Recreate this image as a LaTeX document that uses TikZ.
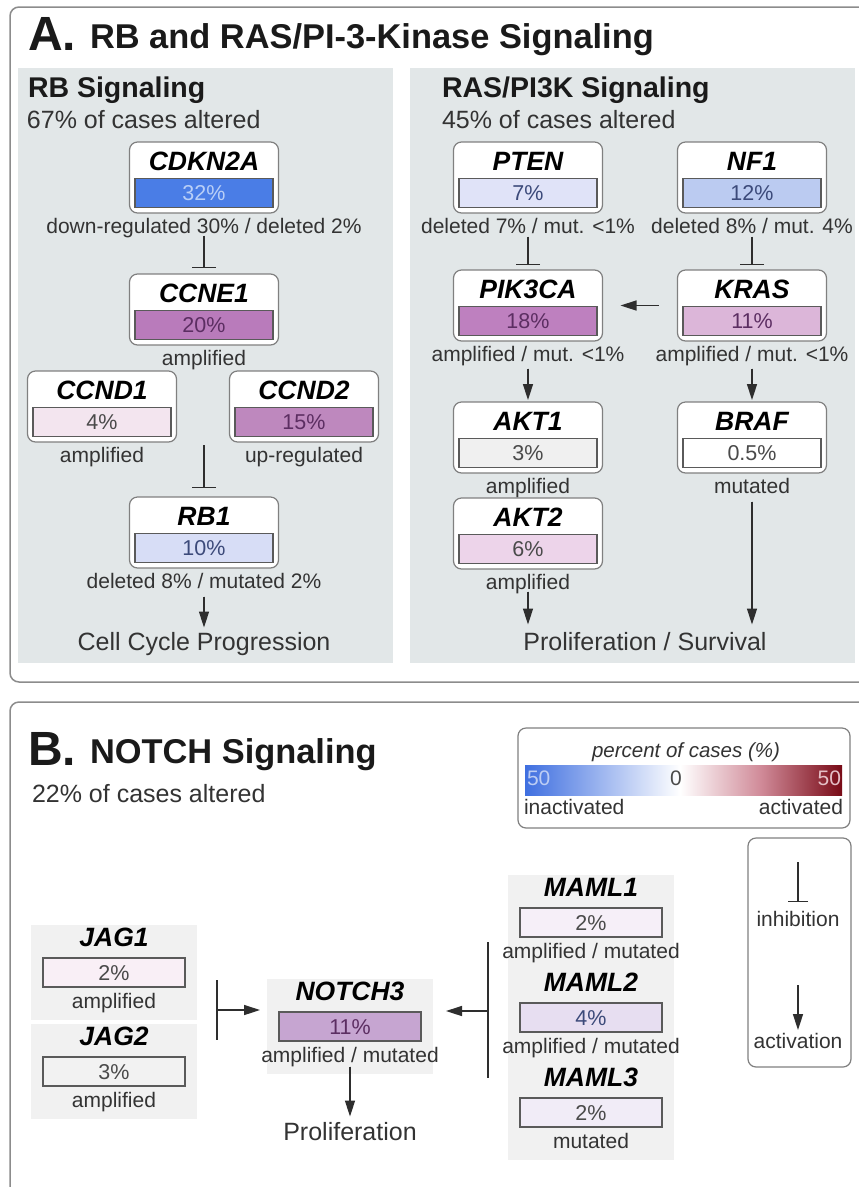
\documentclass[tikz,border=0pt]{standalone}
\usepackage{fontspec}
\setmainfont{Liberation Sans}
\usetikzlibrary{arrows.meta,calc}
\definecolor{panelgray}{HTML}{E2E7E8}
\definecolor{framegray}{HTML}{8C8C8C}
\definecolor{boxgray}{HTML}{808080}
\definecolor{bargray}{HTML}{5A5A5A}
\definecolor{linegray}{HTML}{2E2E2E}
\definecolor{labgray}{HTML}{333333}
\definecolor{pctgray}{HTML}{4A4A4A}
\definecolor{nbggray}{HTML}{F1F1F1}
\definecolor{cCDKNtwoA}{HTML}{4A7DE6}
\definecolor{tCDKNtwoA}{HTML}{B9CFF7}
\definecolor{cCCNEone}{HTML}{B97BBB}
\definecolor{tPurple}{HTML}{5C2E62}
\definecolor{cCCNDone}{HTML}{F3E5EF}
\definecolor{cCCNDtwo}{HTML}{BE88BE}
\definecolor{cRBone}{HTML}{D7DDF6}
\definecolor{tBlue}{HTML}{3C4A7A}
\definecolor{cPTEN}{HTML}{E0E3F8}
\definecolor{cNFone}{HTML}{BBCBF1}
\definecolor{cPIKCA}{HTML}{BE80BF}
\definecolor{cKRAS}{HTML}{DCB6D9}
\definecolor{cAKTone}{HTML}{F0F0F0}
\definecolor{cAKTtwo}{HTML}{EDD4EA}
\definecolor{cJAGone}{HTML}{F9EFF6}
\definecolor{cJAGtwo}{HTML}{F2F2F2}
\definecolor{cNOTCH}{HTML}{C6A5D1}
\definecolor{cMAMLone}{HTML}{F6EFF8}
\definecolor{cMAMLtwo}{HTML}{E7DEF1}
\definecolor{cMAMLthree}{HTML}{F1ECF7}
\definecolor{legblue}{HTML}{3F6FE0}
\definecolor{legmid}{HTML}{D08A98}
\definecolor{legred}{HTML}{780A16}
\definecolor{titlecol}{HTML}{1A1A1A}
\tikzset{
  every node/.style={inner sep=0pt, outer sep=0pt},
  frame/.style={draw=framegray, line width=1.5pt, rounded corners=9pt},
  genebox/.style={draw=boxgray, line width=1.2pt, fill=white, rounded corners=8pt,
    minimum width=149pt, minimum height=71pt},
  pbar/.style={draw=bargray, line width=1.1pt, minimum width=138pt, minimum height=29pt,
    font=\fontsize{21.5}{21.5}\selectfont, text=pctgray, text height=15pt, text depth=0pt},
  nbar/.style={pbar, minimum width=142pt},
  nbg/.style={fill=nbggray, minimum width=166pt, minimum height=95pt},
  gname/.style={font=\fontsize{26.5}{26.5}\bfseries\itshape\selectfont, text=black,
    text height=19pt, text depth=0pt},
  lab/.style={font=\fontsize{21}{22}\selectfont, text=labgray, text height=15pt, text depth=4.3pt},
  outtxt/.style={font=\fontsize{25}{26}\selectfont, text=labgray, text height=18pt, text depth=5pt},
  act/.style={-{Triangle[length=16pt,width=10pt]}, line width=1.5pt, draw=linegray, fill=linegray},
  inh/.style={-{Bar[width=24pt,line width=1.5pt]}, line width=1.5pt, draw=linegray},
  plain/.style={line width=1.5pt, draw=linegray},
  ptitle/.style={font=\fontsize{34.4}{34.4}\bfseries\selectfont, text=titlecol, anchor=base west},
  pletter/.style={font=\fontsize{48}{48}\bfseries\selectfont, text=titlecol, anchor=base west},
  stitle/.style={font=\fontsize{28.5}{28.5}\bfseries\selectfont, text=titlecol, anchor=base west},
  sub/.style={font=\fontsize{25}{26}\selectfont, text=labgray, anchor=base west},
  legbox/.style={draw=boxgray, line width=1.2pt, rounded corners=8pt},
}
\newcommand\gbox[7]{%
  \node[genebox] (#1) at (#2,#3+35.5) {};
  \node[gname] (#1-n) at (#2,#3+19) {#4};
  \node[pbar,#6] (#1-b) at (#2,#3+51) {#5};
  \node[lab] (#1-l) at (#2,#3+86) {#7};
}
\newcommand\nbox[7]{%
  \node[nbg] (#1) at (#2,#3+14.5) {};
  \node[gname] (#1-n) at (#2,#3-21) {#4};
  \node[nbar,#6] (#1-b) at (#2,#3+14.5) {#5};
  \node[lab] (#1-l) at (#2,#3+45) {#7};
}
\begin{document}
\begin{tikzpicture}[x=1pt,y=-1pt]
\useasboundingbox (0,0) rectangle (859,1187);
\clip (0,0) rectangle (859,1187);
\fill[white] (0,0) rectangle (859,1187);

% ---------- Panel A ----------
\draw[frame] (10,7) rectangle (885,682);
\fill[panelgray] (18,68) rectangle (393,663);
\fill[panelgray] (410,68) rectangle (855,663);
\node[pletter] (tA) at (28,50) {A.};
\node[ptitle] (tAt) at (90,48) {RB and RAS/PI-3-Kinase Signaling};
\node[stitle] (rbt) at (28,97) {RB Signaling};
\node[sub] (rbs) at (27,128) {67\% of cases altered};
\node[stitle] (rast) at (442,97) {RAS/PI3K Signaling};
\node[sub] (rass) at (442,128) {45\% of cases altered};

\gbox{cdkn2a}{204}{142}{CDKN2A}{32\%}{fill=cCDKNtwoA,text=tCDKNtwoA}{down-regulated 30\% / deleted 2\%}
\gbox{ccne1}{204}{274}{CCNE1}{20\%}{fill=cCCNEone,text=tPurple}{amplified}
\gbox{ccnd1}{102}{371}{CCND1}{4\%}{fill=cCCNDone}{amplified}
\gbox{ccnd2}{304}{371}{CCND2}{15\%}{fill=cCCNDtwo,text=tPurple}{up-regulated}
\gbox{rb1}{204}{497}{RB1}{10\%}{fill=cRBone,text=tBlue}{deleted 8\% / mutated 2\%}
\node[outtxt] (ccp) at (204,644) {Cell Cycle Progression};

\gbox{pten}{528}{142}{PTEN}{7\%}{fill=cPTEN,text=tBlue}{deleted 7\% / mut. <1\%}
\gbox{nf1}{752}{142}{NF1}{12\%}{fill=cNFone,text=tBlue}{deleted 8\% / mut. 4\%}
\gbox{pik3ca}{528}{270}{PIK3CA}{18\%}{fill=cPIKCA,text=tPurple}{amplified / mut. <1\%}
\gbox{kras}{752}{270}{KRAS}{11\%}{fill=cKRAS,text=tPurple}{amplified / mut. <1\%}
\gbox{akt1}{528}{402}{AKT1}{3\%}{fill=cAKTone}{amplified}
\gbox{braf}{752}{402}{BRAF}{0.5\%}{fill=white}{mutated}
\gbox{akt2}{528}{498}{AKT2}{6\%}{fill=cAKTtwo}{amplified}
\node[outtxt] (ps) at (645,644) {Proliferation / Survival};

% connectors A
\draw[inh, shorten <=-2pt, shorten >=6pt] (cdkn2a-l.south) -- (ccne1.north);
\coordinate (ccj) at (204,445);
\draw[inh, shorten >=9pt] (ccj) -- (rb1.north);
\draw[act, shorten <=4pt, shorten >=5pt] (rb1-l.south) -- (ccp.north);
\draw[inh, shorten <=-1pt, shorten >=5pt] (pten-l.south) -- (pik3ca.north);
\draw[inh, shorten <=-1pt, shorten >=5pt] (nf1-l.south) -- (kras.north);
\draw[act, shorten <=19pt, shorten >=18pt] (kras.west) -- (pik3ca.east);
\draw[act, shorten <=3pt, shorten >=2pt] (pik3ca-l.south) -- (akt1.north);
\draw[act, shorten <=3pt, shorten >=2pt] (kras-l.south) -- (braf.north);
\draw[act, shorten <=-2pt, shorten >=8pt] (akt2-l.south) -- (akt2-l.south |- ps.north);
\draw[act, shorten <=4pt, shorten >=8pt] (braf-l.south) -- (braf-l.south |- ps.north);

% ---------- Panel B ----------
\draw[frame] (10,702) rectangle (885,1215);
\node[pletter] (tB) at (28,765) {B.};
\node[ptitle] (tBt) at (90,763) {NOTCH Signaling};
\node[sub] (ns) at (32,802) {22\% of cases altered};

\nbox{jag1}{114}{958}{JAG1}{2\%}{fill=cJAGone}{amplified}
\nbox{jag2}{114}{1057}{JAG2}{3\%}{fill=cJAGtwo}{amplified}
\nbox{notch3}{350}{1012}{NOTCH3}{11\%}{fill=cNOTCH,text=tPurple}{amplified / mutated}
\nbox{maml1}{591}{908}{MAML1}{2\%}{fill=cMAMLone}{amplified / mutated}
\nbox{maml2}{591}{1003}{MAML2}{4\%}{fill=cMAMLtwo,text=tBlue}{amplified / mutated}
\nbox{maml3}{591}{1098}{MAML3}{2\%}{fill=cMAMLthree}{mutated}
\node[outtxt] (prol) at (350,1134) {Proliferation};

\coordinate (jt) at (217,980);
\coordinate (jb) at (217,1040);
\coordinate (jm) at (217,1010);
\draw[plain] (jt) -- (jb);
\draw[act, shorten >=7pt] (jm) -- (jm -| notch3.west);
\coordinate (mt) at (488,942);
\coordinate (mb) at (488,1078);
\coordinate (mm) at (488,1011);
\draw[plain] (mt) -- (mb);
\draw[act, shorten >=13pt] (mm) -- (mm -| notch3.east);
\draw[act, shorten <=0pt, shorten >=6pt] (notch3-l.south) -- (prol.north);

% legend
\draw[legbox] (518,728) rectangle (850,828);
\node[lab, font=\fontsize{20.5}{22}\itshape\selectfont] (legt) at (686,752) {percent of cases (\%)};
\shade[left color=legblue, right color=white] (525,765) rectangle (680,795);
\shade[left color=white, right color=legred, middle color=legmid] (680,765) rectangle (842,795);
\node[lab, text=legblue!35!white, anchor=west] (l50a) at (527,780) {50};
\node[lab, text=pctgray] (l0) at (676,780) {0};
\node[lab, text=legmid!55!white, anchor=east] (l50b) at (841,780) {50};
\node[lab, anchor=west] (linact) at (524,809) {inactivated};
\node[lab, anchor=east] (lact) at (843,809) {activated};

\draw[legbox] (748,838) rectangle (851,1067);
\coordinate (lia) at (798,862);
\coordinate (lib) at (798,902);
\draw[inh, -{Bar[width=20pt,line width=1.5pt]}] (lia) -- (lib);
\node[lab] (linh) at (798,921) {inhibition};
\coordinate (laa) at (798,985);
\coordinate (lab) at (798,1030);
\draw[act] (laa) -- (lab);
\node[lab] (lactv) at (798,1043) {activation};
\end{tikzpicture}
\end{document}
